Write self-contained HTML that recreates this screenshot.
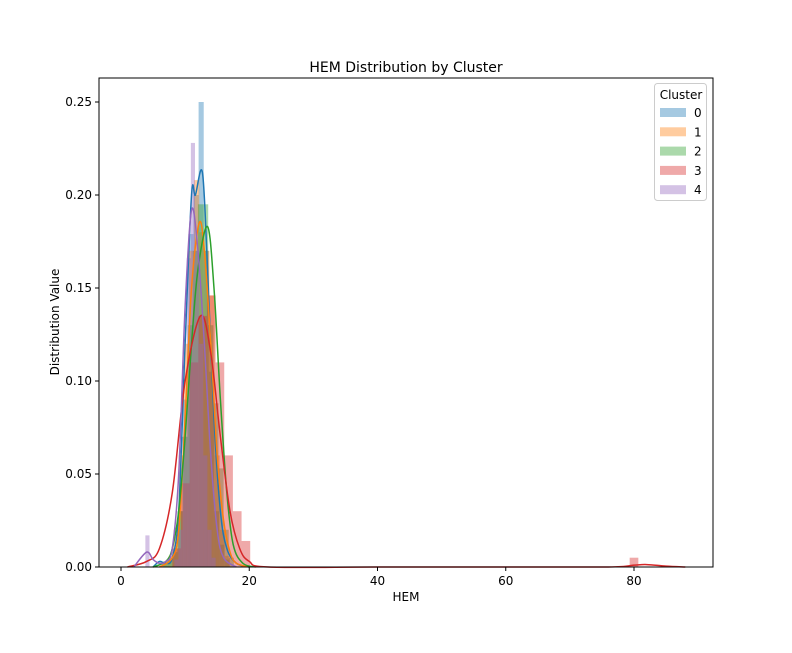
<!DOCTYPE html>
<html><head><meta charset="utf-8"><style>
body{margin:0;background:#fff;}
svg text{font-family:"DejaVu Sans","Liberation Sans",sans-serif;fill:#000;}
</style></head><body>
<svg id="chart" width="792" height="648">
<rect x="0" y="0" width="792" height="648" fill="#fff"/>
<text x="406" y="72" text-anchor="middle" font-size="14">HEM Distribution by Cluster</text>
<g id="marks"></g>
<rect x="99" y="78" width="614" height="489" fill="none" stroke="#000" stroke-width="1"/>
<g id="axes"></g>
<text x="406" y="601" text-anchor="middle" font-size="12">HEM</text>
<text transform="translate(59,322) rotate(-90)" text-anchor="middle" font-size="12">Distribution Value</text>
<g id="legend"></g>
</svg>
<script>
const xTicks=[0,20,40,60,80];
const yTicks=[0,0.05,0.10,0.15,0.20,0.25];
const yTickLabels=["0.00","0.05","0.10","0.15","0.20","0.25"];
const clusters=["0","1","2","3","4"];
const colors=["#1f77b4","#ff7f0e","#2ca02c","#d62728","#9467bd"];
// histogram bins: start, width, heights
const binStart=[6.5,6.6,6.4,8.0,3.8];
const binWidth=[0.8,0.8,0.8,1.35,0.645];
const hist0=[0.003,0.005,0.01,0.03,0.09,0.179,0.2,0.25,0.17,0.105,0.03,0.012,0.004];
const hist1=[0.003,0.006,0.02,0.06,0.12,0.17,0.208,0.18,0.17,0.146,0.06,0.02,0.006];
const hist2=[0.002,0.004,0.008,0.03,0.07,0.13,0.17,0.195,0.195,0.13,0.088,0.053,0.02,0.005];
const hist3=[0.01,0.045,0.11,0.135,0.146,0.11,0.06,0.03,0.014];
const hist4=[0.017,0,0,0,0,0,0,0.004,0.02,0.07,0.166,0.228,0.17,0.12,0.06,0.02,0.005];
const outlierX=[80];
const outlierH=[0.005];
// KDE points
const kdeX0=[5,6,7,8,9,10,11,11.6,12.7,13.5,14.5,15.5,16.5,18,20];
const kdeY0=[0,0.003,0.002,0.005,0.03,0.12,0.2,0.2,0.212,0.16,0.08,0.03,0.01,0.002,0];
const kdeX1=[6,8,9,10,11,12.2,13,14,15,16,17,18,20];
const kdeY1=[0,0.005,0.02,0.08,0.15,0.185,0.17,0.12,0.06,0.025,0.008,0.002,0];
const kdeX2=[5,7,8,9,10,11,12,13.5,14.5,15.5,16.5,17.5,19,21];
const kdeY2=[0,0.003,0.01,0.03,0.07,0.12,0.16,0.183,0.15,0.09,0.04,0.012,0.002,0];
const kdeX3=[1,4,6,8,10,12.4,14,15.5,17,18.5,20,23,40,60,76,80,82,85,88];
const kdeY3=[0,0.003,0.01,0.04,0.1,0.135,0.115,0.07,0.03,0.01,0.003,0,0,0,0,0.001,0.0013,0.0005,0];
const kdeX4=[2,4,5,6,7,8,9,10,11,12,13,14,15,16,18];
const kdeY4=[0,0.008,0.004,0.002,0.003,0.01,0.05,0.14,0.192,0.17,0.12,0.06,0.02,0.005,0];

const NS="http://www.w3.org/2000/svg";
const X=v=>121+v*(634-121)/80;
const Y=d=>567-d*(567-102)/0.25;
const marks=document.getElementById('marks');
const axes=document.getElementById('axes');
const legend=document.getElementById('legend');
function mk(t,a,p){const e=document.createElementNS(NS,t);for(const k in a)e.setAttribute(k,a[k]);p.appendChild(e);return e;}

const hists=[hist0,hist1,hist2,hist3,hist4];
const kx=[kdeX0,kdeX1,kdeX2,kdeX3,kdeX4];
const ky=[kdeY0,kdeY1,kdeY2,kdeY3,kdeY4];
for(let c=0;c<5;c++){
  hists[c].forEach((h,i)=>{
    if(h<=0)return;
    const x0=binStart[c]+i*binWidth[c];
    const r=mk('rect',{x:X(x0),y:Y(h),width:X(x0+binWidth[c])-X(x0),height:Y(0)-Y(h),fill:colors[c],'fill-opacity':0.4},marks);
    
    
  });
  if(c===3){
    outlierX.forEach((v,i)=>{
      const r=mk('rect',{x:X(v-binWidth[3]/2),y:Y(outlierH[i]),width:X(binWidth[3])-X(0),height:Y(0)-Y(outlierH[i]),fill:colors[3],'fill-opacity':0.4},marks);
      
      
    });
  }
}
for(let c=0;c<5;c++){
  const px=kx[c].map(X),py=ky[c].map(Y);
  let d='M'+px[0]+','+py[0];
  for(let i=0;i<px.length-1;i++){
    const p0=i>0?i-1:i,p3=i+2<px.length?i+2:i+1;
    const c1x=px[i]+(px[i+1]-px[p0])/6,c1y=py[i]+(py[i+1]-py[p0])/6;
    const c2x=px[i+1]-(px[p3]-px[i])/6,c2y=py[i+1]-(py[p3]-py[i])/6;
    d+=' C'+c1x+','+c1y+' '+c2x+','+c2y+' '+px[i+1]+','+py[i+1];
  }
  const p=mk('path',{d:d,fill:'none',stroke:colors[c],'stroke-width':1.5},marks);
  
  
}
xTicks.forEach(v=>{
  const l=mk('line',{x1:X(v),x2:X(v),y1:567,y2:571,stroke:'#000'},axes);
  
  
  const t=mk('text',{x:X(v),y:585,'text-anchor':'middle','font-size':12},axes);
  t.textContent=v;
  
  
});
yTicks.forEach((v,i)=>{
  const l=mk('line',{x1:95,x2:99,y1:Y(v),y2:Y(v),stroke:'#000'},axes);
  
  
  const t=mk('text',{x:92,y:Y(v)+4,'text-anchor':'end','font-size':12},axes);
  t.textContent=yTickLabels[i];
  
  
});
const box=mk('rect',{x:654.5,y:83.5,width:52,height:117,fill:'#fff',stroke:'#ccc',rx:3},legend);


const lt=mk('text',{x:681,y:99,'text-anchor':'middle','font-size':12},legend);
lt.textContent='Cluster';


clusters.forEach((c,i)=>{
  const y=108+i*19.3;
  const r=mk('rect',{x:660,y:y,width:26,height:9,fill:colors[i],'fill-opacity':0.4},legend);
  
  
  const t=mk('text',{x:694,y:y+9,'font-size':12},legend);
  t.textContent=c;
  
  
});
</script>
</body></html>
